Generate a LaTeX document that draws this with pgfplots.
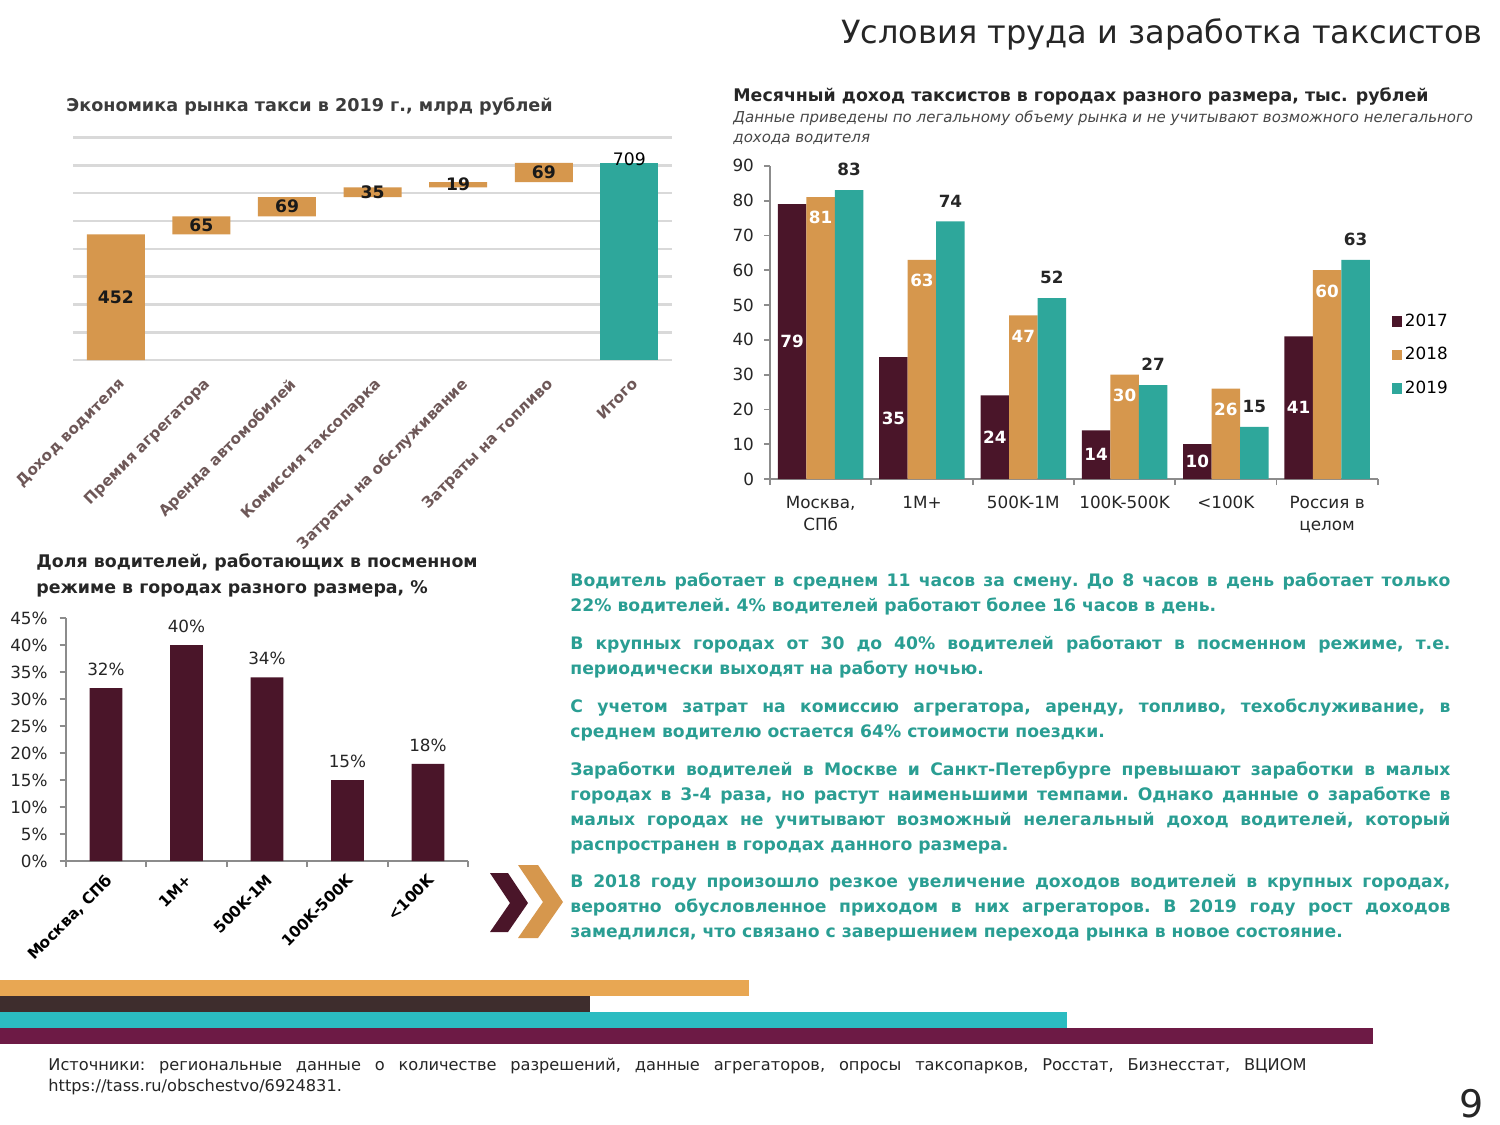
\documentclass[border=0pt]{standalone}
\usepackage{fontspec}
\setmainfont{DejaVu Sans}
\usepackage{pgfplots}
\usepackage{pgfplotstable}
\pgfplotsset{compat=1.18}

\definecolor{maroon}{HTML}{4A1529}
\definecolor{orng}{HTML}{D6974D}
\definecolor{teal2}{HTML}{2EA79B}
\definecolor{txtteal}{HTML}{2A9E93}
\definecolor{axgray}{HTML}{8C8C8C}
\definecolor{gridgray}{HTML}{D9D9D9}
\definecolor{lblbrown}{HTML}{6E5858}
\definecolor{darktxt}{HTML}{262626}
\definecolor{stripeO}{HTML}{E8A753}
\definecolor{stripeD}{HTML}{3E2D2D}
\definecolor{stripeT}{HTML}{2BBCC1}
\definecolor{stripeM}{HTML}{6D1A45}

\newcommand\fz[1]{\fontsize{#1}{#1}\selectfont}

\pgfplotsset{
  /pgf/number format/assume math mode=true,
  sqlegend/.style={legend image code/.code={\fill[##1] (0pt,-2.6pt) rectangle (5.2pt,2.6pt);}},
}

% waterfall: invisible base, visible step, label height (middle of step)
\pgfplotstableread{
x base val mid
0 0 452 226
1 452 65 484.5
2 517 69 551.5
3 586 35 603.5
4 621 19 630.5
5 640 69 674.5
}\wfdata

% monthly income, thousand rubles
\pgfplotstableread{
x y17 y18 y19
0 79 81 83
1 35 63 74
2 24 47 52
3 14 30 27
4 10 26 15
5 41 60 63
}\incdata

% share of shift drivers, %
\pgfplotstableread{
x share
0 32
1 40
2 34
3 15
4 18
}\sharedata

\newcommand\jl[3]{\node[anchor=base west,inner sep=0pt,text=txtteal,font=\fz{8.6}\bfseries] at (#1,#2) {\frenchspacing\makebox[440pt][s]{#3}};}
\newcommand\el[3]{\node[anchor=base west,inner sep=0pt,text=txtteal,font=\fz{8.6}\bfseries] at (#1,#2) {\frenchspacing #3};}

\begin{document}
\begin{tikzpicture}
\begin{scope}[x=0.5pt,y=-0.5pt]
\fill[white] (0,0) rectangle (1500,1125);

% page title
\node[anchor=base east,inner sep=0pt,text=darktxt,font=\fz{16}] at (1483,43) {Условия труда и заработка таксистов};

% chart titles
\node[anchor=base west,inner sep=0pt,text=darktxt!90,font=\fz{8.8}\bfseries] at (66,111) {Экономика рынка такси в 2019 г., млрд рублей};
\node[anchor=base west,inner sep=0pt,text=darktxt,font=\fz{8.7}\bfseries] at (733,101) {Месячный доход таксистов в городах разного размера, тыс. рублей};
\node[anchor=base west,inner sep=0pt,text=darktxt!85,font=\fz{7.5}\itshape] at (733,122) {Данные приведены по легальному объему рынка и не учитывают возможного нелегального};
\node[anchor=base west,inner sep=0pt,text=darktxt!85,font=\fz{7.5}\itshape] at (733,142) {дохода водителя};
\node[anchor=base west,inner sep=0pt,text=darktxt,font=\fz{8.7}\bfseries] at (36,567) {Доля водителей, работающих в посменном};
\node[anchor=base west,inner sep=0pt,text=darktxt,font=\fz{8.7}\bfseries] at (36,593) {режиме в городах разного размера, \%};

% body text
\jl{570}{586}{Водитель работает в среднем 11 часов за смену. До 8 часов в день работает только}
\el{570}{611}{22\% водителей. 4\% водителей работают более 16 часов в день.}
\jl{570}{649}{В крупных городах от 30 до 40\% водителей работают в посменном режиме, т.е.}
\el{570}{674}{периодически выходят на работу ночью.}
\jl{570}{712}{С учетом затрат на комиссию агрегатора, аренду, топливо, техобслуживание, в}
\el{570}{737}{среднем водителю остается 64\% стоимости поездки.}
\jl{570}{775}{Заработки водителей в Москве и Санкт-Петербурге превышают заработки в малых}
\jl{570}{800}{городах в 3-4 раза, но растут наименьшими темпами. Однако данные о заработке в}
\jl{570}{825}{малых городах не учитывают возможный нелегальный доход водителей, который}
\el{570}{850}{распространен в городах данного размера.}
\jl{570}{887}{В 2018 году произошло резкое увеличение доходов водителей в крупных городах,}
\jl{570}{912}{вероятно обусловленное приходом в них агрегаторов. В 2019 году рост доходов}
\el{570}{937}{замедлился, что связано с завершением перехода рынка в новое состояние.}

% chevrons
\fill[maroon] (490,873) -- (508,873) -- (528,903) -- (508,932) -- (490,932) -- (510,903) -- cycle;
\fill[orng] (518,865) -- (538,865) -- (563,902) -- (538,938) -- (518,938) -- (543,902) -- cycle;

% stripes
\fill[stripeO] (0,980) rectangle (749,996);
\fill[stripeD] (0,996) rectangle (590,1012);
\fill[stripeT] (0,1012) rectangle (1067,1028);
\fill[stripeM] (0,1028) rectangle (1373,1044);

% sources
\node[anchor=base west,inner sep=0pt,text=darktxt,font=\fz{8.1}] at (48,1070) {\frenchspacing\makebox[629pt][s]{Источники: региональные данные о количестве разрешений, данные агрегаторов, опросы таксопарков, Росстат, Бизнесстат, ВЦИОМ}};
\node[anchor=base west,inner sep=0pt,text=darktxt,font=\fz{8.1}] at (48,1091) {https://tass.ru/obschestvo/6924831.};
\node[anchor=base east,inner sep=0pt,text=darktxt,font=\fz{19}] at (1484,1117) {9};
\end{scope}

% ---------- waterfall ----------
\begin{axis}[
  at={(36.5pt,-180pt)}, anchor=south west,
  x=42.8pt, y=0.139pt,
  xmin=-0.5, xmax=6.5, ymin=0, ymax=800,
  ybar stacked, bar width=29pt,
  axis line style={draw=none}, tick style={draw=none},
  ytick={0,100,...,800}, yticklabels={}, ymajorgrids,
  grid style={gridgray, line width=1.3pt},
  xtick={0,...,6},
  xticklabels={Доход водителя, Премия агрегатора, Аренда автомобилей, Комиссия таксопарка, Затраты на обслуживание, Затраты на топливо, Итого},
  xticklabel style={rotate=45, anchor=north east, inner sep=0pt, yshift=-6.4pt, xshift=-5.2pt, font=\fz{7.6}\bfseries, text=lblbrown},
  clip=false,
]
\addplot[fill=none, draw=none] table[x=x,y=base]{\wfdata};
\addplot[fill=orng, draw=none] table[x=x,y=val]{\wfdata};
\end{axis}
\begin{axis}[
  at={(36.5pt,-180pt)}, anchor=south west,
  x=42.8pt, y=0.139pt,
  xmin=-0.5, xmax=6.5, ymin=0, ymax=800,
  hide axis, clip=false,
]
\addplot[ybar, bar width=29pt, bar shift=0pt, fill=teal2, draw=none, nodes near coords,
  nodes near coords style={anchor=south, inner sep=0pt, yshift=-1.5pt, font=\fz{8.6}, text=black}]
  coordinates {(6,709)};
\addplot[draw=none, mark=none, point meta=explicit symbolic, nodes near coords,
  nodes near coords style={anchor=center, font=\fz{8.6}\bfseries, text=black!90}]
  table[x=x,y=mid,meta=val]{\wfdata};
\end{axis}

% ---------- monthly income ----------
\begin{axis}[
  at={(385pt,-239.5pt)}, anchor=south west,
  x=50.65pt, y=1.74pt,
  xmin=-0.5, xmax=5.5, ymin=0, ymax=90,
  ybar, bar width=14.25pt, sqlegend,
  axis x line*=bottom, axis y line*=left,
  axis line style={axgray, line width=0.9pt},
  tick style={axgray, line width=0.9pt},
  tick align=outside, major tick length=3pt,
  ytick={0,10,...,90},
  xtick={-0.5,0.5,...,5.5}, x tick label as interval,
  xticklabels={{Москва,\\СПб},1M+,500K-1M,100K-500K,<100K,{Россия в\\целом}},
  xticklabel style={align=center, yshift=-2pt, font=\fontsize{8.4}{11}\selectfont, text=darktxt},
  yticklabel style={xshift=-1.5pt, font=\fz{8.4}, text=darktxt},
  legend style={at={(1.022,0.396)}, anchor=west, draw=none, fill=none,
    font=\fz{8.4}, row sep=6pt, inner sep=0pt, nodes={inner sep=1.5pt}},
  legend cell align=left,
  clip=false,
]
\addplot[fill=maroon, draw=none, bar shift=-14.25pt,
  point meta=explicit symbolic,
  nodes near coords,
  nodes near coords style={anchor=center, yshift=-\pgfplotspointmeta*0.87pt, font=\fz{8.4}\bfseries, text=white}]
  table[x=x,y=y17,meta=y17]{\incdata};
\addlegendentry{2017}
\addplot[fill=orng, draw=none, bar shift=0pt, nodes near coords,
  nodes near coords style={anchor=north, inner sep=0pt, yshift=-7pt, font=\fz{8.4}\bfseries, text=white}]
  table[x=x,y=y18]{\incdata};
\addlegendentry{2018}
\addplot[fill=teal2, draw=none, bar shift=14.25pt, nodes near coords,
  nodes near coords style={anchor=south, inner sep=0pt, yshift=7pt, font=\fz{8.4}\bfseries, text=darktxt}]
  table[x=x,y=y19]{\incdata};
\addlegendentry{2019}
\end{axis}

% ---------- shift work share ----------
\begin{axis}[
  at={(32.85pt,-430.5pt)}, anchor=south west,
  x=40.25pt, y=2.7pt,
  xmin=-0.5, xmax=4.5, ymin=0, ymax=45,
  ybar, bar width=16.35pt,
  axis x line*=bottom, axis y line*=left,
  axis line style={axgray, line width=1pt},
  tick style={axgray, line width=1pt},
  tick align=outside, major tick length=3pt,
  ytick={0,5,...,45},
  yticklabel={\pgfmathprintnumber{\tick}\%},
  yticklabel style={xshift=-2.5pt, font=\fz{8.4}, text=darktxt},
  xtick={-0.5,0.5,...,4.5}, x tick label as interval,
  xticklabels={{Москва, СПб},1M+,500K-1M,100K-500K,<100K},
  xticklabel style={rotate=45, anchor=north east, inner sep=0pt, yshift=-1.5pt, xshift=-2.5pt, font=\fz{7.7}\bfseries, text=black},
  clip=false,
]
\addplot[fill=maroon, draw=none, bar shift=0pt,
  nodes near coords={\pgfmathprintnumber{\pgfplotspointmeta}\%},
  nodes near coords style={anchor=south, inner sep=0pt, yshift=6pt, font=\fz{8.4}, text=darktxt}]
  table[x=x,y=share]{\sharedata};
\end{axis}

\pgfresetboundingbox
\path[use as bounding box] (0pt,0pt) rectangle (750pt,-562.5pt);
\end{tikzpicture}
\end{document}
